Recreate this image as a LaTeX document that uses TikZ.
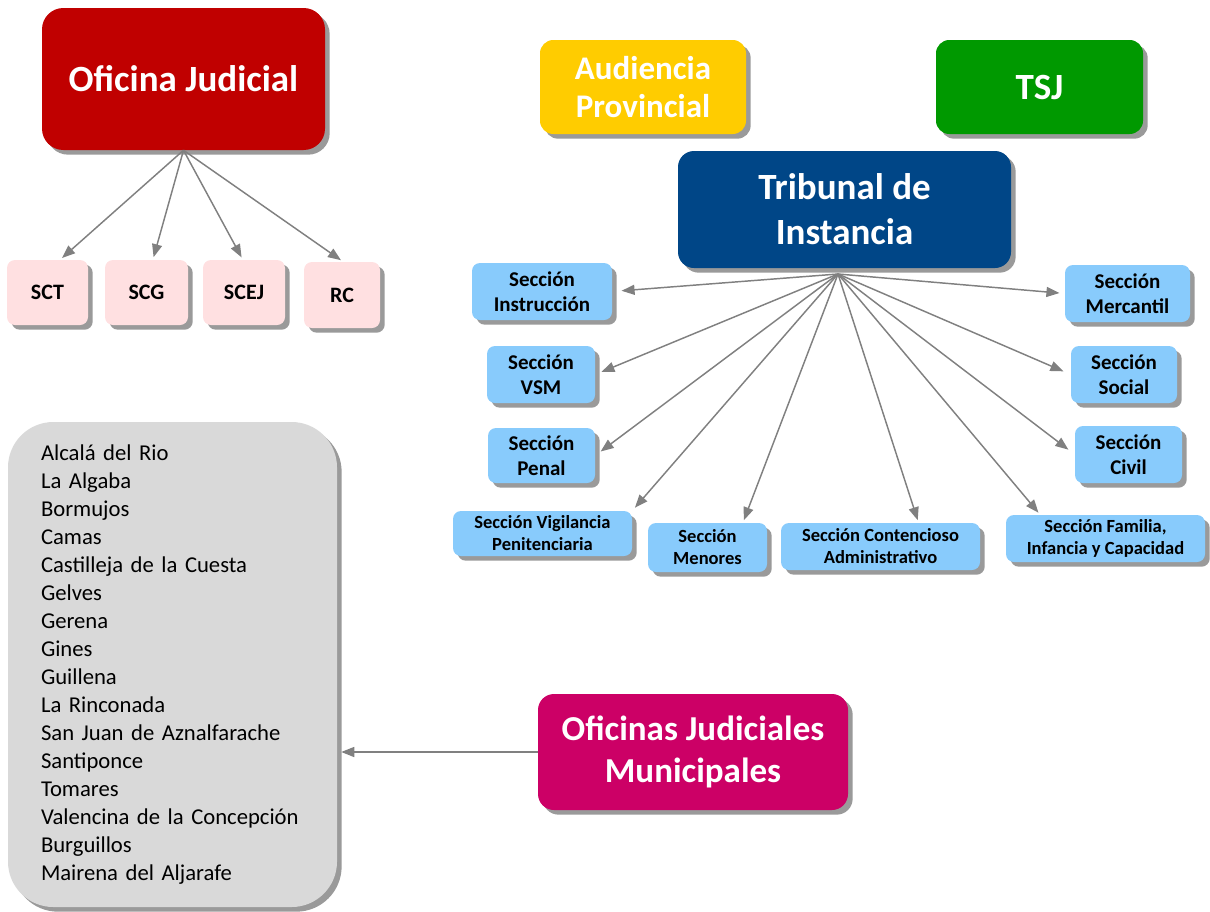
\documentclass[tikz,border=0pt]{standalone}
\usepackage{fontspec}
\setmainfont{Carlito}
\usetikzlibrary{shadows,arrows.meta,calc}
\definecolor{ojred}{HTML}{C00000}
\definecolor{pinkc}{HTML}{FFE0E1}
\definecolor{audy}{HTML}{FFCC00}
\definecolor{tsjg}{HTML}{009900}
\definecolor{tribb}{HTML}{004687}
\definecolor{secb}{HTML}{88CBFC}
\definecolor{listg}{HTML}{D9D9D9}
\definecolor{munm}{HTML}{CC0066}
\definecolor{shgray}{HTML}{9A9A9A}
\definecolor{argray}{HTML}{808080}
\begin{document}
\begin{tikzpicture}[x=0.75pt,y=-0.75pt,
  box/.style={rectangle, draw=none, inner sep=2pt, align=center,
    drop shadow={shadow xshift=3.5pt, shadow yshift=-3.5pt, fill=shgray, opacity=1}},
  bigwhite/.style={text=white, font=\bfseries\fontsize{27.75}{33.75}\selectfont},
  pinkbox/.style={box, fill=pinkc, rounded corners=6pt, minimum height=48.75pt,
    font=\bfseries\fontsize{16.5}{20}\selectfont},
  secbox/.style={box, fill=secb, rounded corners=6pt, minimum height=42.75pt,
    font=\bfseries\fontsize{15.75}{18.75}\selectfont},
  secsmall/.style={box, fill=secb, rounded corners=6pt, minimum height=35pt,
    font=\bfseries\fontsize{13.9}{16.5}\selectfont},
  arr/.style={draw=argray, line width=1.1pt, -{Triangle[length=9.75pt,width=7.5pt]}}]
\useasboundingbox (0,0) rectangle (1210,911);

% top left
\node[box, bigwhite, fill=ojred, rounded corners=16pt, minimum width=212.25pt, minimum height=106.5pt] (oj) at (183.5,79) {Oficina Judicial};
\node[pinkbox, minimum width=60.75pt] (sct) at (47.5,292.5) {SCT};
\node[pinkbox, minimum width=62.25pt] (scg) at (146.5,292.5) {SCG};
\node[pinkbox, minimum width=61.5pt] (scej) at (244,292.5) {SCEJ};
\node[pinkbox, minimum width=57pt, minimum height=49.5pt] (rc) at (342,295) {RC};

% top right
\node[box, fill=audy, rounded corners=10pt, minimum width=154.5pt, minimum height=70.5pt, text=white, font=\bfseries\fontsize{24.75}{28.5}\selectfont] (aud) at (643,87) {Audiencia\\Provincial};
\node[box, bigwhite, fill=tsjg, rounded corners=10pt, minimum width=155.25pt, minimum height=70.5pt] (tsj) at (1039.5,87) {TSJ};
\node[box, bigwhite, fill=tribb, rounded corners=12pt, minimum width=249.75pt, minimum height=87.75pt] (trib) at (844.5,209.5) {Tribunal de\\Instancia};

% sections
\node[secbox, minimum width=105pt] (ins) at (542,291.5) {Sección\\Instrucción};
\node[secbox, minimum width=81pt] (vsm) at (541,374.5) {Sección\\VSM};
\node[secbox, minimum width=80.25pt, minimum height=41.25pt] (pen) at (541.5,455.5) {Sección\\Penal};
\node[secsmall, minimum width=134.25pt, minimum height=33.75pt] (vig) at (542.5,533.5) {Sección Vigilancia\\Penitenciaria};
\node[secsmall, minimum width=89.25pt, minimum height=36.75pt] (men) at (707.5,547.5) {Sección\\Menores};
\node[secsmall, minimum width=149.25pt, minimum height=35.25pt] (con) at (880.5,546.5) {Sección Contencioso\\Administrativo};
\node[secsmall, minimum width=149.25pt, minimum height=35.25pt] (fam) at (1105.5,538.5) {Sección Familia,\\Infancia y Capacidad};
\node[secbox, minimum width=93.75pt] (mer) at (1127.5,293.5) {Sección\\Mercantil};
\node[secbox, minimum width=79.5pt] (soc) at (1124,374.5) {Sección\\Social};
\node[secbox, minimum width=80.25pt] (civ) at (1128.5,454.5) {Sección\\Civil};

% list and municipal
\node[box, fill=listg, rounded corners=34pt, minimum width=246.75pt, minimum height=363.75pt,
  inner xsep=24.75pt, text width=197.25pt, align=left, font=\fontsize{17}{21}\selectfont] (list) at (172.5,664.5)
  {Alcalá del Rio\\La Algaba\\Bormujos\\Camas\\Castilleja de la Cuesta\\Gelves\\Gerena\\Gines\\Guillena\\La Rinconada\\San Juan de Aznalfarache\\Santiponce\\Tomares\\Valencina de la Concepción\\Burguillos\\Mairena del Aljarafe};
\node[box, fill=munm, rounded corners=12pt, minimum width=232.5pt, minimum height=87pt, text=white, font=\bfseries\fontsize{26.25}{31.5}\selectfont] (mun) at (693,752) {Oficinas Judiciales\\Municipales};

% connectors
\draw[arr, shorten >=2pt] (oj.south) -- (sct.69);
\draw[arr, shorten >=2pt] (oj.south) -- (scg.79);
\draw[arr, shorten >=2pt] (oj.south) -- (scej.92);
\draw[arr, shorten >=2pt] (oj.south) -- (rc.88);

\coordinate (th) at (838,274);
\draw[arr, shorten >=7pt] (th) -- (ins.east);
\draw[arr, shorten >=5pt] (th) -- (vsm.east);
\draw[arr, shorten >=5pt] (th) -- (pen.east);
\draw[arr, shorten >=3pt] (th) -- (vig.north east);
\draw[arr, shorten >=2pt] (th) -- (men.35);
\draw[arr, shorten >=2pt] (th) -- (con.32);
\draw[arr, shorten >=2pt] (th) -- (fam.160);
\draw[arr, shorten >=4pt] (th) -- (mer.west);
\draw[arr, shorten >=6pt] (th) -- (soc.west);
\draw[arr, shorten >=6pt] (th) -- (civ.west);

\draw[arr, shorten >=3pt] (mun.west) -- (list.east |- mun.west);
\end{tikzpicture}
\end{document}
